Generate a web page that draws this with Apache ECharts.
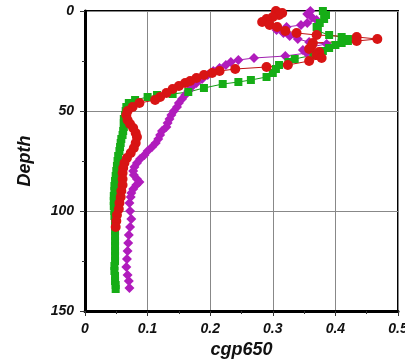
<!DOCTYPE html>
<html>
<head>
<meta charset="utf-8">
<script src="https://cdn.jsdelivr.net/npm/echarts@6/dist/echarts.min.js"></script>
<style>html,body{margin:0;padding:0;background:#fff}#c{width:405px;height:360px}</style>
</head>
<body>
<div id="c"></div>
<script>
const xTicks = [0, 0.1, 0.2, 0.3, 0.4, 0.5];
const yTicks = [0, 50, 100, 150];
const xName = "cgp650";
const yName = "Depth";

const greenDepth = [0,2,4,6,8,10,12,13,14,15,16,17,18.5,20,22,24,25.5,27,29,31,33,34.5,35.5,36.5,38.5,40.5,41.5,42,43,44.5,46,48,50,52,54,56,58,60,62,64,66,68,70,72.5,75,77.5,80,82.5,85,87.5,90,92.5,95,97.5,100,102.5,105,107.5,110,112.5,115,117.5,120,122.5,125,127.5,130,132.5,135,137,139];
const greenVal   = [0.38,0.385,0.382,0.375,0.37,0.372,0.39,0.41,0.42,0.42,0.41,0.40,0.39,0.38,0.365,0.335,0.325,0.31,0.305,0.30,0.29,0.265,0.245,0.22,0.19,0.165,0.14,0.115,0.10,0.08,0.07,0.066,0.065,0.064,0.062,0.062,0.062,0.061,0.06,0.058,0.057,0.056,0.055,0.053,0.052,0.051,0.05,0.049,0.048,0.047,0.047,0.046,0.046,0.046,0.047,0.047,0.048,0.048,0.048,0.048,0.048,0.048,0.048,0.048,0.048,0.047,0.047,0.048,0.048,0.049,0.049];

const redDepth = [0,1,2,3,4,5.5,7,8,10,11,12,13,14,15,16,17.5,19,20.5,22,23.5,25,27,28,29,30,31,32,33.5,35,36,37.5,39,41,43,44.5,46,48,50,52,54.5,56.5,58.5,61,63,66,68.5,71,73.5,76,78.5,81,84,87,90,93,96,99,102,105,108];
const redVal   = [0.305,0.315,0.31,0.30,0.29,0.283,0.295,0.307,0.32,0.338,0.37,0.434,0.467,0.434,0.364,0.362,0.358,0.374,0.37,0.378,0.358,0.324,0.29,0.24,0.215,0.203,0.19,0.178,0.168,0.16,0.15,0.14,0.13,0.12,0.112,0.087,0.076,0.068,0.066,0.068,0.072,0.077,0.081,0.083,0.081,0.078,0.073,0.067,0.063,0.061,0.06,0.06,0.06,0.058,0.057,0.055,0.054,0.051,0.05,0.049];

const purpleDepth = [0,1.5,3,4.5,6,7,8,9.5,11,12.5,14,15.5,16.5,18,19.5,21,22.5,23.5,24.5,25.5,27,28.5,30,32,34,36,38,40,42,44,46,48,50,52,54,56,58,60,62,64,66,68,70,72,74,76,78,80,82,84,85.5,87,89,91,93,96,100,104,108,112,116,120,124,128,132,135,138.5];
const purpleVal   = [0.36,0.355,0.362,0.37,0.355,0.345,0.322,0.306,0.317,0.327,0.34,0.358,0.386,0.36,0.348,0.354,0.32,0.27,0.245,0.233,0.225,0.215,0.205,0.196,0.187,0.178,0.17,0.165,0.16,0.155,0.15,0.147,0.142,0.138,0.135,0.132,0.13,0.123,0.12,0.117,0.113,0.107,0.10,0.095,0.088,0.083,0.079,0.077,0.078,0.083,0.087,0.082,0.077,0.074,0.073,0.071,0.072,0.074,0.072,0.07,0.069,0.068,0.067,0.066,0.068,0.07,0.071];

function pairs(v, d){ return v.map((x,i)=>[x, d[i]]); }

const chart = echarts.init(document.getElementById('c'), null, {renderer:'canvas'});
const lbl = {fontFamily:'Liberation Sans, Arial, sans-serif', fontWeight:'bold', fontStyle:'italic', color:'#111'};
chart.setOption({
  animation:false,
  grid:{left:85, right:7, top:11, bottom:49, outerBoundsMode:'none', containLabel:false,
    show:true, borderColor:'#000', borderWidth:2, backgroundColor:'#fff'},
  xAxis:{type:'value', min:xTicks[0], max:xTicks[xTicks.length-1], interval:0.1,
    name:xName, nameLocation:'middle', nameGap:29,
    nameTextStyle:Object.assign({fontSize:18}, lbl),
    axisLine:{show:true, onZero:false, lineStyle:{color:'#000', width:3}},
    axisTick:{show:true, length:5, lineStyle:{color:'#333'}},
    minorTick:{show:true, splitNumber:2, length:3, lineStyle:{color:'#333'}},
    splitLine:{show:true, lineStyle:{color:'#888', width:1}},
    axisLabel:Object.assign({fontSize:14, margin:11, formatter:v=>v===0?'0':String(+v.toFixed(1))}, lbl)
  },
  yAxis:{type:'value', inverse:true, min:yTicks[0], max:yTicks[yTicks.length-1], interval:50,
    name:yName, nameLocation:'middle', nameGap:51, nameRotate:90,
    nameTextStyle:Object.assign({fontSize:18}, lbl),
    axisLine:{show:true, onZero:false, lineStyle:{color:'#000', width:3}},
    axisTick:{show:true, length:5, lineStyle:{color:'#333'}},
    minorTick:{show:true, splitNumber:2, length:3, lineStyle:{color:'#333'}},
    splitLine:{show:true, lineStyle:{color:'#888', width:1}},
    axisLabel:Object.assign({fontSize:14, margin:11}, lbl)
  },
  series:[
    {type:'line', data:pairs(purpleVal, purpleDepth), symbol:'diamond', symbolSize:10,
      itemStyle:{color:'#b01cbc'}, lineStyle:{color:'#a020b0', width:1}},
    {type:'line', data:pairs(greenVal, greenDepth), symbol:'rect', symbolSize:8,
      itemStyle:{color:'#16ad16'}, lineStyle:{color:'#109a10', width:1}},
    {type:'line', data:pairs(redVal, redDepth), symbol:'circle', symbolSize:10,
      itemStyle:{color:'#d81414'}, lineStyle:{color:'#c01010', width:1}}
  ]
});
</script>
</body>
</html>
